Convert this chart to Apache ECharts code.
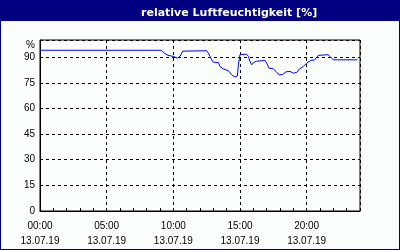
<!DOCTYPE html>
<html>
<head>
<meta charset="utf-8">
<script src="https://cdn.jsdelivr.net/npm/echarts@6/dist/echarts.min.js"></script>
<style>
html, body { margin: 0; padding: 0; }
#chart { width: 400px; height: 250px; background: #000080; }
</style>
</head>
<body>
<div id="chart"></div>
<script>
// Zeit in Stunden (13.07.19) und relative Luftfeuchtigkeit in %
const hours = [0, 9.1, 9.25, 9.6, 10.0, 10.3, 10.5, 10.7, 12.5, 12.63, 12.75, 12.88, 13.0, 13.38, 13.5,
    13.75, 14.13, 14.38, 14.63, 14.8, 14.88, 15.0, 15.5, 15.63, 15.75, 15.88, 16.05, 16.25, 16.88, 17.0,
    17.18, 17.5, 17.7, 17.93, 18.2, 18.45, 18.75, 19.0, 19.25, 19.45, 19.75, 20.0, 20.3, 20.6, 20.87,
    21.6, 21.8, 22.0, 23.75, 23.8]
const humidity = [94, 94, 92.7, 91, 90.4, 89.4, 90.4, 93.5, 93.7, 92.3, 90.4, 88.4, 87, 86.8, 84.5,
    83.1, 82, 79.6, 78.3, 79, 85.5, 91.5, 91.7, 90.4, 87.4, 85.5, 87, 87.6, 88, 86.5,
    83.5, 83.1, 81.6, 79.6, 79.8, 81.4, 81.6, 80.6, 81, 83, 84.5, 86.5, 88, 88.4, 91,
    91.4, 90, 88.4, 88.4, 89]
const xTicks = [0, 5, 10, 15, 20]
const yTicks = [0, 15, 30, 45, 60, 75, 90]
const dateLabel = '13.07.19'

const pad = n => (n < 10 ? '0' : '') + n
const labelFont = "'Liberation Sans Narrow', 'Liberation Sans'"

let myChart = echarts.init(document.getElementById('chart'))
let option = {
    backgroundColor: 'transparent',
    animation: false,
    textStyle: { fontFamily: labelFont },
    title: {
        text: 'relative Luftfeuchtigkeit [%]',
        left: 136,
        top: 3,
        textStyle: {
            color: '#ffffff',
            fontSize: 11,
            fontWeight: 'bold',
            fontFamily: 'DejaVu Sans'
        }
    },
    graphic: [{
        type: 'rect',
        z: -10,
        shape: { x: 1, y: 21, width: 398, height: 228 },
        style: { fill: '#fbfffb' }
    }],
    grid: {
        left: 40,
        right: 40,
        top: 40,
        bottom: 39,
        show: true,
        borderColor: '#000',
        borderWidth: 1,
        backgroundColor: 'transparent'
    },
    xAxis: {
        type: 'value',
        min: 0,
        max: 24,
        interval: 5,
        axisLine: { lineStyle: { color: '#000', width: 1 } },
        axisTick: { show: true, inside: true, length: 3, lineStyle: { color: '#000' } },
        minorTick: { show: true, splitNumber: 5, length: 3, lineStyle: { color: '#000' } },
        axisLabel: {
            color: '#000',
            fontSize: 10,
            fontFamily: labelFont,
            lineHeight: 15,
            margin: 8,
            showMaxLabel: false,
            formatter: v => xTicks.includes(v) ? pad(v) + ':00\n' + dateLabel : ''
        },
        splitLine: {
            show: true,
            lineStyle: { color: '#000', type: [3, 3], width: 1 }
        }
    },
    yAxis: {
        type: 'value',
        min: 0,
        max: 100,
        interval: 15,
        axisLine: { show: true, lineStyle: { color: '#000', width: 1 } },
        axisTick: { show: false },
        axisLabel: {
            color: '#000',
            fontSize: 10,
            fontFamily: labelFont,
            margin: 5,
            formatter: v => yTicks.includes(v) ? String(v) : '{p|%}',
            rich: { p: { fontSize: 10, fontFamily: labelFont, color: '#000', padding: [10, 0, 0, 0] } }
        },
        splitLine: {
            show: true,
            lineStyle: { color: '#000', type: [3, 3], width: 1 }
        }
    },
    series: [{
        name: 'relative Luftfeuchtigkeit',
        type: 'line',
        data: hours.map((h, i) => [h, humidity[i]]),
        showSymbol: false,
        lineStyle: { color: '#0000ff', width: 1 }
    }]
}
option && myChart.setOption(option)
</script>
</body>
</html>
